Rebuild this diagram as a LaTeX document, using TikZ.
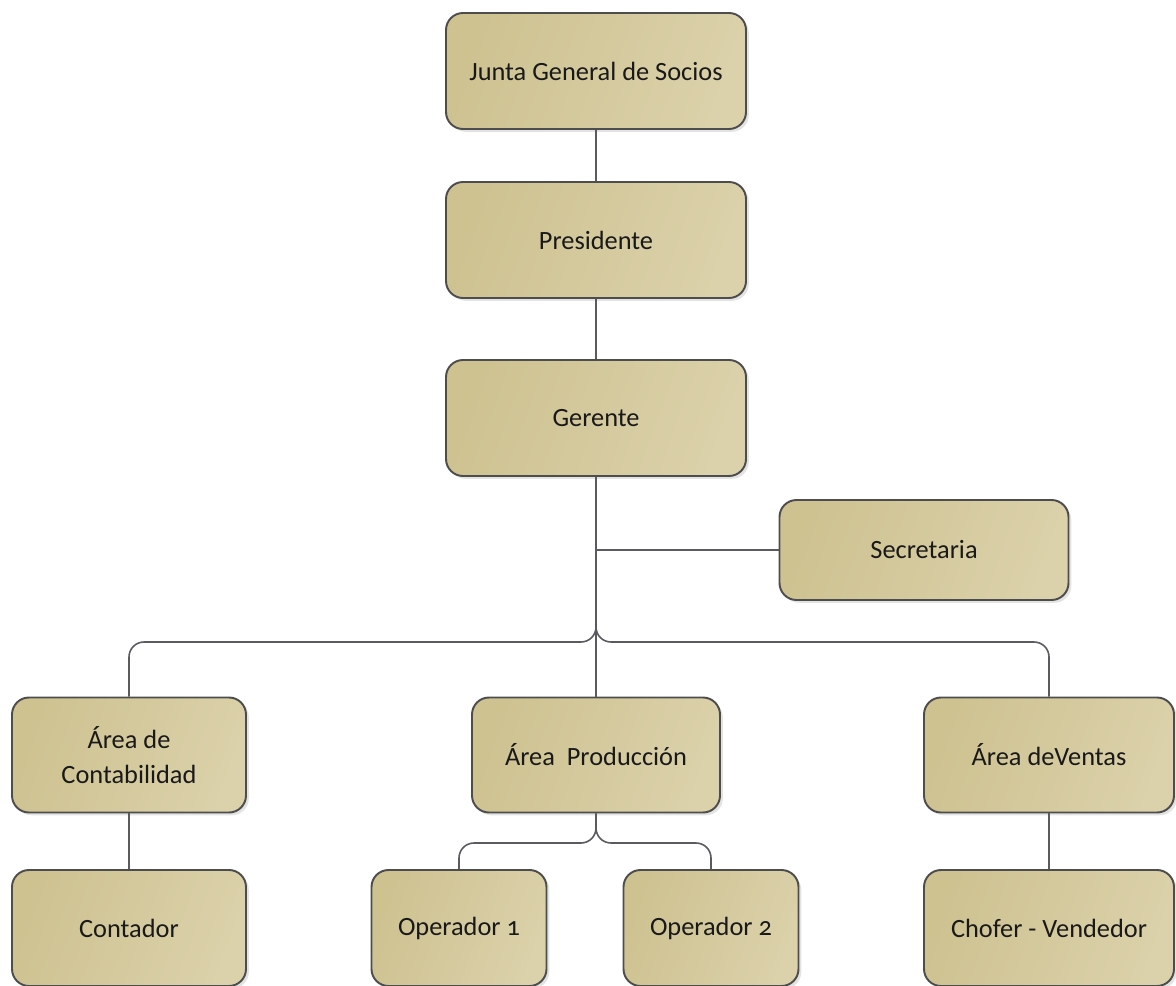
\documentclass[tikz,border=0pt]{standalone}
\usepackage{fontspec}
\setmainfont[Numbers=OldStyle]{Carlito}
\usepackage{tikz}
\usetikzlibrary{positioning, shadows, calc}
\definecolor{boxdark}{RGB}{206, 194, 145}
\definecolor{boxlight}{RGB}{219, 209, 170}
\definecolor{boxedge}{RGB}{77, 77, 77}
\definecolor{linegray}{RGB}{90, 90, 95}

\begin{document}
\begin{tikzpicture}[
    orgbox/.style={draw=boxedge, line width=1.1pt, rounded corners=0.34cm,
                left color=boxdark, right color=boxlight, shading angle=70,
                drop shadow={shadow xshift=1.6pt, shadow yshift=-1.6pt, fill=black!22},
                align=center, text=black!90, font=\fontsize{15}{19.8}\selectfont},
    big/.style={minimum width=6.0cm, minimum height=2.32cm},
    mid/.style={minimum height=2.30cm},
    small/.style={minimum width=3.5cm, minimum height=2.32cm},
    conn/.style={draw=linegray, line width=0.9pt, rounded corners=0.3cm}
]
    \useasboundingbox (0,0) rectangle (23.52,-19.72);

    % top chain
    \node[orgbox, big] (junta) at (11.92,-1.42) {Junta General de Socios};
    \node[orgbox, big] (pres) at (11.92,-4.80) {Presidente};
    \node[orgbox, big] (ger) at (11.92,-8.36) {Gerente};
    \node[orgbox, minimum width=5.78cm, minimum height=2.0cm] (sec) at (18.48,-11.00) {Secretaria};

    % areas
    \node[orgbox, mid, minimum width=4.68cm] (cont) at (2.58,-15.10) {Área de\\Contabilidad};
    \node[orgbox, mid, minimum width=4.96cm] (prod) at (11.92,-15.10) {Área\ \ Producción};
    \node[orgbox, mid, minimum width=5.0cm] (ventas) at (20.98,-15.10) {Área deVentas};

    % staff
    \node[orgbox, small, minimum width=4.68cm] (contador) at (2.58,-18.56) {Contador};
    \node[orgbox, small] (op1) at (9.18,-18.56) {Operador 1};
    \node[orgbox, small] (op2) at (14.22,-18.56) {Operador 2};
    \node[orgbox, small, minimum width=5.0cm] (chofer) at (20.98,-18.56) {Chofer - Vendedor};

    \coordinate (bus) at (11.92,-12.84);
    \coordinate (pbus) at (11.92,-16.86);

    \draw[conn] (junta) -- (pres);
    \draw[conn] (pres) -- (ger);
    \draw[conn] (ger.south) -- (prod.north);
    \draw[conn] (ger.south |- sec.west) -- (sec.west);
    \draw[conn] (ger.south) |- (cont.north |- bus) -- (cont.north);
    \draw[conn] (ger.south) |- (ventas.north |- bus) -- (ventas.north);
    \draw[conn] (prod.south) |- (op1.north |- pbus) -- (op1.north);
    \draw[conn] (prod.south) |- (op2.north |- pbus) -- (op2.north);
    \draw[conn] (cont) -- (contador);
    \draw[conn] (ventas) -- (chofer);
\end{tikzpicture}
\end{document}
